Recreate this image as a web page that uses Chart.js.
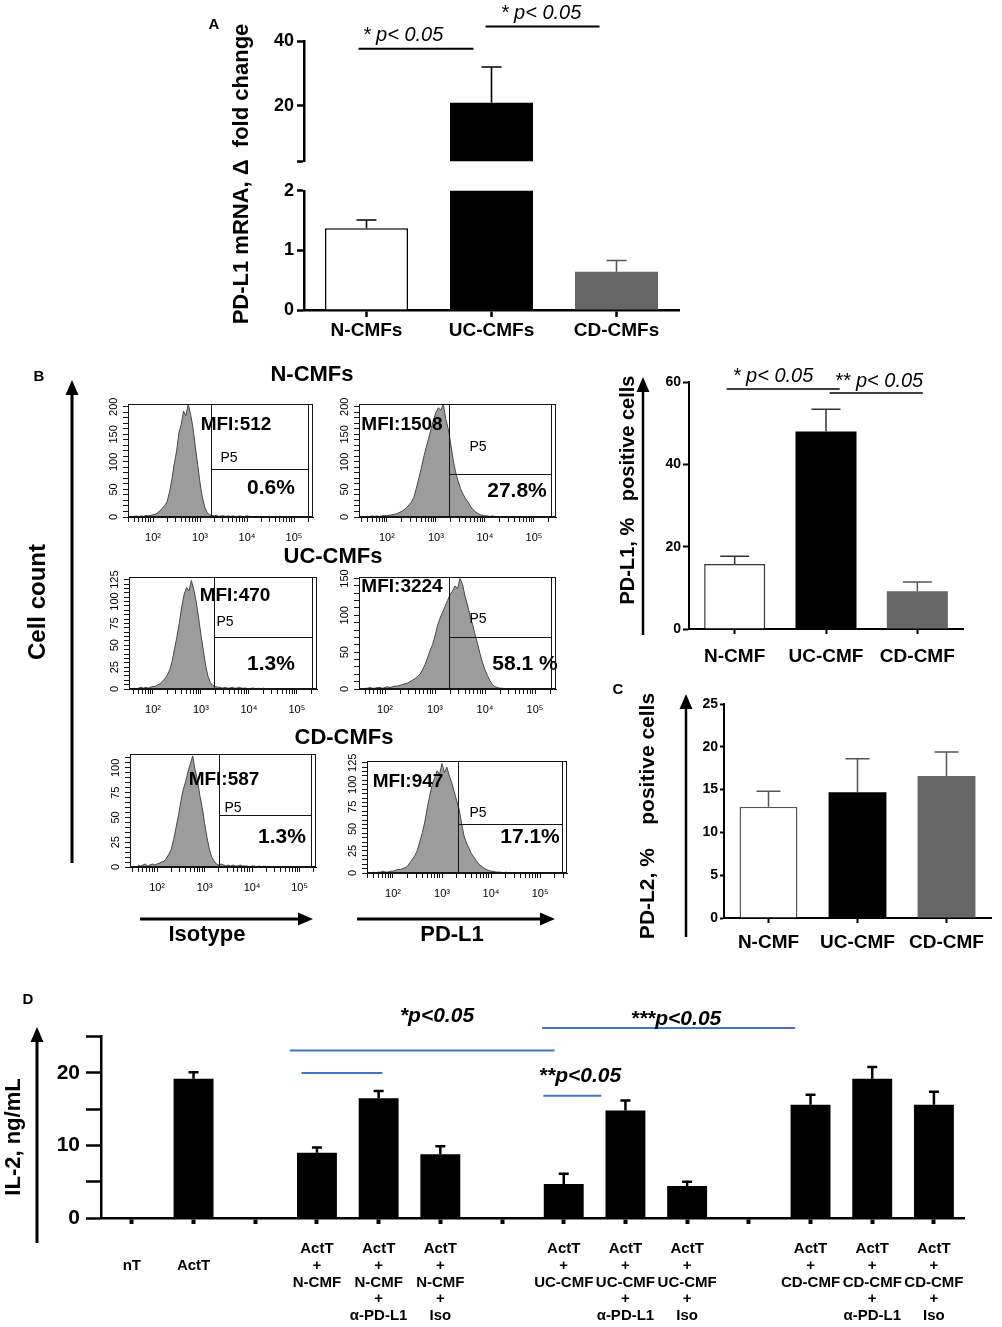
<!DOCTYPE html>
<html>
<head>
<meta charset="utf-8">
<title>PD-L1 / PD-L2 / IL-2 figure</title>
<script src="https://cdn.jsdelivr.net/npm/chart.js"></script>
<style>
  html, body { margin:0; padding:0; background:#fff; }
  #fig { position:relative; width:1002px; height:1327px; overflow:hidden; background:#fff;
         font-family:"Liberation Sans", Arial, Helvetica, sans-serif; color:#000; }
  #fig canvas { position:absolute; }
  #fig svg { position:absolute; left:0; top:0; }
  .t { position:absolute; white-space:pre; line-height:1; transform:translate(-50%,-50%); }
</style>
</head>
<body>
<div id="fig"></div>
<script>
// ================= DATA =================
// Panel A : PD-L1 mRNA fold change (broken axis)
const aCategories = ['N-CMFs', 'UC-CMFs', 'CD-CMFs'];
const aMeans = [1.37, 21.0, 0.64];
const aSem = [0.14, 11.0, 0.19];
const aLowerTicks = [0, 1, 2];
const aUpperTicks = [20, 40];

// Panel B (right) : PD-L1 % positive cells
const bCategories = ['N-CMF', 'UC-CMF', 'CD-CMF'];
const bMeans = [15.8, 48.0, 9.2];
const bSem = [1.9, 5.4, 2.2];
const bTicks = [0, 20, 40, 60];

// Panel C : PD-L2 % positive cells
const cCategories = ['N-CMF', 'UC-CMF', 'CD-CMF'];
const cMeans = [13.0, 14.7, 16.6];
const cSem = [1.8, 3.9, 2.8];
const cTicks = [0, 5, 10, 15, 20, 25];

// Panel D : IL-2 ng/mL
const dCategories = [
  ['', 'nT'], ['', 'ActT'], '',
  ['ActT', '+', 'N-CMF'], ['ActT', '+', 'N-CMF', '+', 'α-PD-L1'], ['ActT', '+', 'N-CMF', '+', 'Iso'], '',
  ['ActT', '+', 'UC-CMF'], ['ActT', '+', 'UC-CMF', '+', 'α-PD-L1'], ['ActT', '+', 'UC-CMF', '+', 'Iso'], '',
  ['ActT', '+', 'CD-CMF'], ['ActT', '+', 'CD-CMF', '+', 'α-PD-L1'], ['ActT', '+', 'CD-CMF', '+', 'Iso']
];
const dMeans = [0, 19.2, null, 9.0, 16.5, 8.8, null, 4.7, 14.8, 4.4, null, 15.6, 19.2, 15.6];
const dSem   = [0, 0.9, null, 0.7, 1.0, 1.1, null, 1.4, 1.4, 0.6, null, 1.4, 1.6, 1.8];
const dTickLabels = [0, 10, 20];
const dTicks = [0, 5, 10, 15, 20, 25];

// Panel B (left) : flow cytometry histograms, log10 fluorescence bins
const histBins = [1.60, 1.65, 1.70, 1.75, 1.80, 1.85, 1.90, 1.95, 2.00, 2.05,
                  2.10, 2.15, 2.20, 2.25, 2.30, 2.35, 2.40, 2.45, 2.50, 2.55,
                  2.60, 2.65, 2.70, 2.75, 2.80, 2.85, 2.90, 2.95, 3.00, 3.05,
                  3.10, 3.15, 3.20, 3.25, 3.30, 3.35, 3.40, 3.45, 3.50, 3.55,
                  3.60, 3.65, 3.70, 3.75, 3.80, 3.85, 3.90, 3.95, 4.00, 4.05,
                  4.10, 4.15, 4.20, 4.25, 4.30, 4.35, 4.40];
const histNIso = [1, 2, 0, 2, 1, 3, 2, 3, 4, 5,
                  8, 11, 16, 21, 28, 45, 67, 96, 118, 152,
                  168, 192, 184, 205, 186, 162, 128, 95, 62, 36,
                  18, 8, 4, 3, 2, 3, 1, 2, 2, 1,
                  2, 1, 2, 1, 1, 2, 1, 1, 2, 1,
                  1, 0, 1, 1, 0, 1, 0];
const histNPDL1 = [1, 1, 2, 1, 2, 1, 2, 3, 2, 3,
                   4, 5, 6, 8, 10, 13, 17, 22, 27, 36,
                   52, 70, 88, 108, 126, 142, 160, 176, 190, 198,
                   194, 205, 178, 160, 134, 104, 82, 66, 52, 42,
                   34, 28, 20, 14, 10, 7, 4, 3, 2, 2,
                   1, 2, 1, 1, 0, 1, 0];
const histUCIso = [1, 0, 1, 2, 1, 2, 1, 2, 3, 3,
                   5, 6, 9, 12, 16, 22, 32, 46, 60, 76,
                   94, 108, 116, 112, 124, 114, 100, 82, 62, 44,
                   26, 14, 7, 4, 3, 2, 2, 1, 2, 1,
                   1, 2, 1, 1, 2, 1, 1, 1, 0, 1,
                   1, 0, 1, 0, 1, 0, 0];
const histUCPDL1 = [1, 1, 2, 1, 1, 2, 2, 1, 2, 3,
                    2, 3, 4, 4, 5, 6, 7, 8, 10, 12,
                    14, 17, 20, 26, 33, 42, 52, 60, 72, 86,
                    96, 104, 112, 120, 128, 133, 140, 136, 150, 142,
                    126, 114, 100, 88, 74, 62, 48, 36, 26, 18,
                    11, 6, 3, 2, 1, 1, 0];
const histCDIso = [2, 1, 2, 3, 1, 2, 3, 2, 3, 4,
                   5, 6, 9, 13, 18, 28, 40, 52, 66, 78,
                   86, 96, 104, 112, 98, 88, 72, 60, 44, 30,
                   18, 10, 6, 3, 2, 3, 2, 1, 2, 1,
                   2, 1, 1, 2, 1, 1, 1, 0, 1, 1,
                   0, 1, 0, 1, 0, 0, 0];
const histCDPDL1 = [1, 0, 1, 1, 2, 1, 1, 2, 2, 3,
                    4, 4, 5, 6, 8, 12, 16, 20, 26, 36,
                    46, 58, 74, 88, 100, 108, 116, 112, 124, 114,
                    120, 110, 102, 92, 82, 72, 56, 42, 34, 28,
                    22, 18, 14, 10, 8, 6, 4, 3, 2, 2,
                    1, 1, 1, 0, 1, 0, 0];
const histMFI = ['MFI:512', 'MFI:1508', 'MFI:470', 'MFI:3224', 'MFI:587', 'MFI:947'];
const histPercent = ['0.6%', '27.8%', '1.3%', '58.1 %', '1.3%', '17.1%'];
const histGateLog = [3.23, 3.27, 3.28, 3.27, 3.30, 3.33];
const histGateCount = [87, 78, 59, 71, 52, 56];
const histDecades = [2, 3, 4, 5];
const histYLabels200 = [0, 50, 100, 150, 200];
const histYLabels150 = [0, 50, 100, 150];
const histYLabels125 = [0, 25, 50, 75, 100, 125];
const histYLabels100 = [0, 25, 50, 75, 100];

// ================= HELPERS =================
const fig = document.getElementById('fig');
Chart.defaults.font.family = '"Liberation Sans", Arial, Helvetica, sans-serif';
Chart.defaults.color = '#000';

function place(area, m) {
  const c = document.createElement('canvas');
  const w = area[2] - area[0] + m.l + m.r;
  const h = area[3] - area[1] + m.t + m.b;
  c.width = w; c.height = h;
  c.style.left = (area[0] - m.l) + 'px';
  c.style.top = (area[1] - m.t) + 'px';
  c.style.width = w + 'px';
  c.style.height = h + 'px';
  fig.appendChild(c);
  return c;
}

const noPlugins = { legend: { display: false }, tooltip: { enabled: false }, title: { display: false } };

const errPlugin = {
  id: 'err',
  afterDatasetsDraw(chart, args, o) {
    if (!o || !o.sem) return;
    const ctx = chart.ctx, a = chart.chartArea, y = chart.scales.y;
    const meta = chart.getDatasetMeta(0), vals = chart.data.datasets[0].data;
    ctx.save();
    ctx.beginPath(); ctx.rect(a.left, a.top, a.right - a.left, a.bottom - a.top); ctx.clip();
    ctx.lineWidth = o.width; ctx.lineCap = 'butt';
    meta.data.forEach((bar, i) => {
      const v = vals[i], e = o.sem[i];
      if (v == null || !e) return;
      const x = bar.x, y0 = y.getPixelForValue(v), y1 = y.getPixelForValue(v + e);
      ctx.strokeStyle = o.colors[i];
      ctx.beginPath();
      ctx.moveTo(x, y0); ctx.lineTo(x, y1);
      ctx.moveTo(x - o.cap / 2, y1); ctx.lineTo(x + o.cap / 2, y1);
      ctx.stroke();
    });
    ctx.restore();
  }
};

const sigPlugin = {
  id: 'sig',
  afterDraw(chart, args, o) {
    if (!o || !o.lines) return;
    const ctx = chart.ctx, x = chart.scales.x, y = chart.scales.y;
    ctx.save();
    o.lines.forEach(L => {
      ctx.strokeStyle = o.color; ctx.lineWidth = o.width;
      const py = y.getPixelForValue(L.y);
      ctx.beginPath();
      ctx.moveTo(x.getPixelForValue(L.x0), py);
      ctx.lineTo(x.getPixelForValue(L.x1), py);
      ctx.stroke();
    });
    ctx.restore();
  }
};

const framePlugin = {
  id: 'frame',
  afterDraw(chart, args, o) {
    const ctx = chart.ctx, a = chart.chartArea, x = chart.scales.x, y = chart.scales.y;
    ctx.save();
    ctx.strokeStyle = '#151515'; ctx.lineWidth = 1;
    ctx.strokeRect(Math.round(a.left) + 0.5, Math.round(a.top) + 0.5, Math.round(a.right - a.left) - 1, Math.round(a.bottom - a.top) - 1);
    const gx = Math.round(x.getPixelForValue(o.gx)) + 0.5;
    const gy = Math.round(y.getPixelForValue(o.gy)) + 0.5;
    const rx = Math.round(a.right) - 4.5;
    ctx.beginPath();
    ctx.moveTo(gx, a.top); ctx.lineTo(gx, a.bottom);
    ctx.moveTo(gx, gy); ctx.lineTo(rx, gy);
    ctx.moveTo(rx, a.top); ctx.lineTo(rx, a.bottom);
    ctx.stroke();
    ctx.restore();
  }
};

function barChart(c) {
  const cv = place(c.area, c.m);
  const showX = c.xAxis !== false;
  return new Chart(cv, {
    type: 'bar',
    data: {
      labels: c.labels,
      datasets: [{
        data: c.values, backgroundColor: c.colors, borderColor: c.borderColors,
        borderWidth: c.borderWidths, borderSkipped: 'start',
        barPercentage: c.barPct, categoryPercentage: 1
      }]
    },
    options: {
      responsive: false, animation: false, devicePixelRatio: 1,
      layout: { padding: { left: 0, top: c.m.t, right: c.m.r, bottom: 0 } },
      scales: {
        x: {
          offset: true,
          afterFit: s => { s.height = c.m.b; },
          border: { display: showX, color: '#000', width: c.axisW },
          grid: { display: showX, drawOnChartArea: false, offset: false, tickLength: c.xTickLen || 5, tickWidth: c.xTickW || c.axisW, tickColor: '#000' },
          ticks: { display: showX, font: c.xFont, padding: c.xPad || 0, minRotation: 0, maxRotation: 0, autoSkip: false }
        },
        y: {
          min: c.yMin, max: c.yMax,
          afterFit: s => { s.width = c.m.l; },
          afterBuildTicks: s => { s.ticks = c.yTicks.map(v => ({ value: v })); },
          border: { color: '#000', width: c.axisW },
          grid: { drawOnChartArea: false, tickLength: c.yTickLen, tickWidth: c.axisW, tickColor: '#000' },
          ticks: { font: c.yFont, padding: c.yPad, autoSkip: false, callback: v => (c.yLabels.includes(v) ? String(v) : '') }
        }
      },
      plugins: Object.assign({}, noPlugins, { err: c.err || false, sig: c.sig || false })
    },
    plugins: [errPlugin, sigPlugin]
  });
}

const supDigits = { 2: '\u00B2', 3: '\u00B3', 4: '\u2074', 5: '\u2075' };

function histChart(h) {
  const m = { l: 28, b: 34, t: 12, r: 6 };
  const cv = place(h.area, m);
  return new Chart(cv, {
    type: 'line',
    data: {
      datasets: [{
        data: histBins.map((b, i) => ({ x: b, y: h.counts[i] })),
        borderColor: '#474747', borderWidth: 1, backgroundColor: '#9c9c9c',
        fill: 'origin', pointRadius: 0, tension: 0
      }]
    },
    options: {
      responsive: false, animation: false, devicePixelRatio: 1,
      layout: { padding: { left: 0, top: m.t, right: m.r, bottom: 0 } },
      scales: {
        x: {
          type: 'linear', min: h.xMin, max: h.xMax,
          afterFit: s => { s.height = m.b; },
          afterBuildTicks: s => {
            const t = [];
            for (let d = 1; d <= 5; d++) for (let k = 1; k <= 9; k++) {
              const v = d + Math.log10(k);
              if (v >= s.min && v <= s.max) t.push({ value: v });
            }
            s.ticks = t;
          },
          border: { color: '#151515', width: 1 },
          grid: { drawOnChartArea: false, tickLength: 5, tickWidth: 1, tickColor: '#151515' },
          ticks: {
            font: { size: 11 }, padding: 9, minRotation: 0, maxRotation: 0, autoSkip: false,
            callback: v => { const r = Math.round(v); return (Math.abs(v - r) < 1e-9 && histDecades.includes(r)) ? '10' + supDigits[r] : ''; }
          }
        },
        y: {
          type: 'linear', min: 0, max: h.yMax,
          afterFit: s => { s.width = m.l; },
          afterBuildTicks: s => { const t = []; for (let v = 0; v <= h.yMax; v += h.step) t.push({ value: v }); s.ticks = t; },
          border: { color: '#151515', width: 1 },
          grid: { drawOnChartArea: false, tickLength: 5, tickWidth: 1, tickColor: '#151515' },
          ticks: {
            font: { size: 11 }, padding: 0, crossAlign: 'center', minRotation: 90, maxRotation: 90, autoSkip: false,
            callback: v => (h.yLabels.includes(v) ? String(v) : '')
          }
        }
      },
      plugins: Object.assign({}, noPlugins, { frame: { gx: h.gx, gy: h.gy } })
    },
    plugins: [framePlugin]
  });
}

// ================= PANEL A =================
const aCommon = {
  labels: aCategories, values: aMeans, colors: ['#ffffff', '#000000', '#666666'],
  borderColors: ['#000', '#000', '#666'], borderWidths: [1.5, 0, 0], barPct: 0.664,
  axisW: 2.5, yTickLen: 7, yPad: 3, yFont: { size: 18, weight: 'bold' },
  xFont: { size: 19, weight: 'bold', lineHeight: 1.2 }, xTickLen: 7, xPad: 2,
  err: { sem: aSem, colors: ['#000', '#000', '#555'], width: 1.6, cap: 20 }
};
// upper segment of the broken axis
barChart(Object.assign({}, aCommon, {
  area: [304, 41, 679, 165], m: { l: 60, b: 10, t: 20, r: 14 },
  yMin: 3, yMax: 40, yTicks: [3].concat(aUpperTicks), yLabels: aUpperTicks, xAxis: false,
  sig: { color: '#000', width: 2, lines: [{ x0: -0.064, x1: 0.856, y: 37.6 }, { x0: 0.952, x1: 1.864, y: 44.5 }] }
}));
// lower segment
barChart(Object.assign({}, aCommon, {
  area: [304, 187, 679, 310], m: { l: 60, b: 36, t: 10, r: 14 },
  yMin: 0, yMax: 2, yTicks: aLowerTicks, yLabels: aLowerTicks
}));

// ================= PANEL B (bars) =================
barChart({
  area: [689, 382, 963, 629], m: { l: 50, b: 44, t: 12, r: 30 },
  labels: bCategories, values: bMeans, colors: ['#ffffff', '#000000', '#666666'],
  borderColors: ['#333', '#000', '#666'], borderWidths: [1.5, 0, 0], barPct: 0.668,
  axisW: 2, yMin: 0, yMax: 60, yTicks: bTicks, yLabels: bTicks, yTickLen: 6, yPad: 2,
  yFont: { size: 14, weight: 'bold' }, xFont: { size: 19, weight: 'bold', lineHeight: 1.2 }, xTickLen: 5, xPad: 11,
  err: { sem: bSem, colors: ['#333', '#333', '#555'], width: 1.5, cap: 29 },
  sig: { color: '#000', width: 1.5, lines: [{ x0: -0.088, x1: 1.15, y: 58.3 }, { x0: 1.04, x1: 2.06, y: 57.3 }] }
});

// ================= PANEL C =================
barChart({
  area: [724, 704, 991, 918], m: { l: 50, b: 40, t: 12, r: 10 },
  labels: cCategories, values: cMeans, colors: ['#ffffff', '#000000', '#666666'],
  borderColors: ['#555', '#000', '#666'], borderWidths: [1.5, 0, 0], barPct: 0.65,
  axisW: 2, yMin: 0, yMax: 25, yTicks: cTicks, yLabels: cTicks, yTickLen: 4, yPad: 2,
  yFont: { size: 14, weight: 'bold' }, xFont: { size: 19, weight: 'bold', lineHeight: 1.2 }, xTickLen: 5, xPad: 8,
  err: { sem: cSem, colors: ['#555', '#555', '#555'], width: 1.5, cap: 24 }
});

// ================= PANEL D =================
barChart({
  area: [101, 1034, 966, 1218], m: { l: 100, b: 109, t: 16, r: 14 },
  labels: dCategories, values: dMeans, colors: '#000000',
  borderColors: '#000', borderWidths: 0, barPct: 0.647,
  axisW: 2.5, yMin: 0, yMax: 25, yTicks: dTicks, yLabels: dTickLabels, yTickLen: 15, yPad: 6,
  yFont: { size: 21, weight: 'bold' }, xFont: { size: 15, weight: 'bold', lineHeight: 1.13 }, xTickLen: 6, xTickW: 4, xPad: 16,
  err: { sem: dSem, colors: dSem.map(() => '#000'), width: 2.5, cap: 10 },
  sig: { color: '#4472c4', width: 2, lines: [
    { x0: 2.56, x1: 6.85, y: 23.1 }, { x0: 2.75, x1: 4.06, y: 20.0 },
    { x0: 6.65, x1: 10.75, y: 26.2 }, { x0: 6.67, x1: 7.61, y: 16.85 }
  ] }
});

// ================= HISTOGRAMS =================
histChart({ area: [128, 404, 313, 517], xMin: 1.468, xMax: 5.404, yMax: 205, step: 10, yLabels: histYLabels200, counts: histNIso, gx: histGateLog[0], gy: histGateCount[0] });
histChart({ area: [359, 404, 556, 517], xMin: 1.43, xMax: 5.45, yMax: 205, step: 10, yLabels: histYLabels200, counts: histNPDL1, gx: histGateLog[1], gy: histGateCount[1] });
histChart({ area: [129, 577, 317, 689], xMin: 1.50, xMax: 5.42, yMax: 128, step: 5, yLabels: histYLabels125, counts: histUCIso, gx: histGateLog[2], gy: histGateCount[2] });
histChart({ area: [359, 577, 556, 689], xMin: 1.48, xMax: 5.42, yMax: 152, step: 10, yLabels: histYLabels150, counts: histUCPDL1, gx: histGateLog[3], gy: histGateCount[3] });
histChart({ area: [130, 754, 317, 867], xMin: 1.43, xMax: 5.35, yMax: 114, step: 5, yLabels: histYLabels100, counts: histCDIso, gx: histGateLog[4], gy: histGateCount[4] });
histChart({ area: [367, 761, 567, 873], xMin: 1.47, xMax: 5.55, yMax: 127, step: 5, yLabels: histYLabels125, counts: histCDPDL1, gx: histGateLog[5], gy: histGateCount[5] });

// ================= ARROWS =================
const svgNS = 'http://www.w3.org/2000/svg';
const svg = document.createElementNS(svgNS, 'svg');
svg.setAttribute('width', '1002'); svg.setAttribute('height', '1327');
fig.appendChild(svg);
function arrow(x1, y1, x2, y2, w) {
  const ang = Math.atan2(y2 - y1, x2 - x1), L = 15, W = 6.5;
  const bx = x2 - L * Math.cos(ang), by = y2 - L * Math.sin(ang);
  const ln = document.createElementNS(svgNS, 'line');
  ln.setAttribute('x1', x1); ln.setAttribute('y1', y1); ln.setAttribute('x2', bx); ln.setAttribute('y2', by);
  ln.setAttribute('stroke', '#000'); ln.setAttribute('stroke-width', w);
  svg.appendChild(ln);
  const p = document.createElementNS(svgNS, 'polygon');
  const s = Math.sin(ang), c = Math.cos(ang);
  p.setAttribute('points', `${x2},${y2} ${bx + W * s},${by - W * c} ${bx - W * s},${by + W * c}`);
  p.setAttribute('fill', '#000');
  svg.appendChild(p);
}
arrow(72, 863, 72, 380, 3);
arrow(140, 919, 313, 919, 3);
arrow(357, 919, 555, 919, 3);
arrow(643, 635, 643, 377, 2.5);
arrow(686, 937, 686, 694, 2.5);
arrow(37, 1243, 37, 1027, 3);

// ================= TEXT =================
function txt(s, x, y, size, o) {
  o = o || {};
  const d = document.createElement('div');
  d.className = 't';
  d.textContent = s;
  d.style.left = x + 'px'; d.style.top = y + 'px'; d.style.fontSize = size + 'px';
  if (o.b) d.style.fontWeight = 'bold';
  if (o.i) d.style.fontStyle = 'italic';
  if (o.r) d.style.transform = 'translate(-50%,-50%) rotate(-90deg)';
  fig.appendChild(d);
}
// Panel A
txt('A', 214, 23, 15, { b: 1 });
txt('PD-L1 mRNA, \u0394  fold change', 241, 174, 22, { b: 1, r: 1 });
txt('* p< 0.05', 403, 34, 20, { i: 1 });
txt('* p< 0.05', 541, 12, 20, { i: 1 });
// Panel B
txt('B', 39, 375, 15, { b: 1 });
txt('Cell count', 37, 602, 24, { b: 1, r: 1 });
txt('N-CMFs', 312, 374, 22, { b: 1 });
txt('UC-CMFs', 333, 556, 22, { b: 1 });
txt('CD-CMFs', 344, 737, 22, { b: 1 });
const mfiPos = [[236, 423], [402, 423], [235, 594], [402, 585], [224, 778], [408, 780]];
const p5Pos = [[229, 457], [478, 446], [225, 621], [478, 618], [233, 807], [478, 812]];
const pctPos = [[271, 486], [517, 489], [271, 662], [525, 662], [282, 835], [530, 835]];
histMFI.forEach((s, i) => txt(s, mfiPos[i][0], mfiPos[i][1], 19, { b: 1 }));
histPercent.forEach((s, i) => txt(s, pctPos[i][0], pctPos[i][1], 21, { b: 1 }));
p5Pos.forEach(p => txt('P5', p[0], p[1], 14));
txt('Isotype', 207, 934, 22, { b: 1 });
txt('PD-L1', 452, 934, 22, { b: 1 });
txt('PD-L1, %   positive cells', 627, 490, 20, { b: 1, r: 1 });
txt('* p< 0.05', 773, 375, 20, { i: 1 });
txt('** p< 0.05', 879, 380, 20, { i: 1 });
// Panel C
txt('C', 618, 688, 15, { b: 1 });
txt('PD-L2, %    positive cells', 646, 816, 21, { b: 1, r: 1 });
// Panel D
txt('D', 28, 998, 15, { b: 1 });
txt('IL-2, ng/mL', 13, 1137, 22, { b: 1, r: 1 });
txt('*p<0.05', 437, 1014, 21, { b: 1, i: 1 });
txt('***p<0.05', 676, 1017, 21, { b: 1, i: 1 });
txt('**p<0.05', 580, 1074, 21, { b: 1, i: 1 });
</script>
</body>
</html>
